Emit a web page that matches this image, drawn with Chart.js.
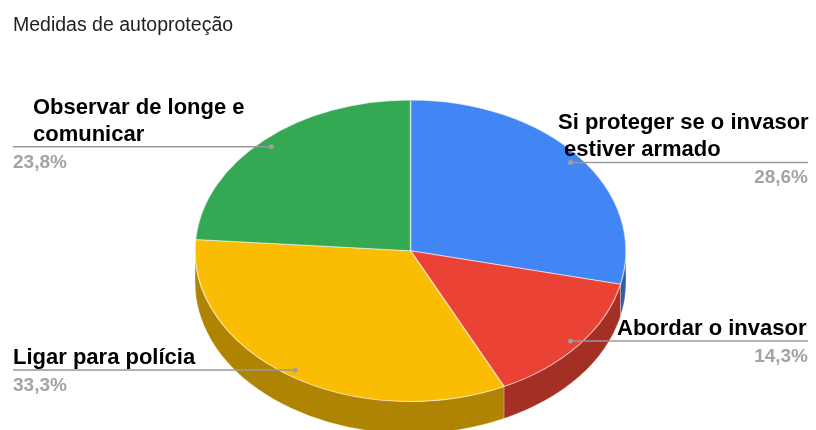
<!DOCTYPE html>
<html lang="pt">
<head>
<meta charset="utf-8">
<title>Medidas de autoproteção</title>
<script src="https://cdn.jsdelivr.net/npm/chart.js@4.4.1/dist/chart.umd.min.js"></script>
<style>
  html, body { margin: 0; padding: 0; background: #fff; }
  #wrap { width: 816px; height: 430px; }
</style>
</head>
<body>
<div id="wrap"><canvas id="chart"></canvas></div>
<script>
const chartTitle = "Medidas de autoproteção";
const categories = [
  ["Si proteger se o invasor", " estiver armado"],
  ["Abordar o invasor"],
  ["Ligar para polícia"],
  ["Observar de longe e", "comunicar"],
];
const responses = [6, 3, 7, 5];
const sliceColors = ["#4285F4", "#EA4335", "#FBBC04", "#34A853"];

// left edge of each slice's name text
const labelTextX = [558, 617, 13, 33];

const TILT = 0.7;   // how flat the top of the pie looks
const DEPTH = 32;   // height of the side wall
const FONT = "'Liberation Sans', Arial, sans-serif";

const shade = (hex, f) => {
  const n = parseInt(hex.slice(1), 16);
  const r = Math.round(((n >> 16) & 255) * f);
  const g = Math.round(((n >> 8) & 255) * f);
  const b = Math.round((n & 255) * f);
  return `rgb(${r},${g},${b})`;
};

const pctText = (v, total) =>
  (v / total * 100).toFixed(1).replace(".", ",") + "%";

// stretches the pie sideways, adds the side wall and the leader-line labels
const pie3d = {
  id: "pie3d",
  beforeDatasetsDraw(chart) {
    const ctx = chart.ctx;
    const arcs = chart.getDatasetMeta(0).data;
    const { x, y, outerRadius } = arcs[0];
    ctx.save();
    ctx.translate(x, y);
    ctx.scale(1 / TILT, 1);
    ctx.translate(-x, -y);

    // only the front half (0..PI) of the wall can be seen
    arcs.forEach((arc, i) => {
      const s = Math.max(arc.startAngle, 0);
      const e = Math.min(arc.endAngle, Math.PI);
      if (e <= s) return;
      ctx.beginPath();
      ctx.arc(x, y, outerRadius, s, e);
      ctx.arc(x, y + DEPTH, outerRadius, e, s, true);
      ctx.closePath();
      ctx.fillStyle = shade(sliceColors[i], 0.7);
      ctx.fill();
      ctx.strokeStyle = "rgba(255,255,255,0.3)";
      ctx.lineWidth = 0.7;
      ctx.stroke();
    });
  },
  afterDatasetsDraw(chart) {
    chart.ctx.restore();
  },
  afterDraw(chart) {
    const ctx = chart.ctx;
    const arcs = chart.getDatasetMeta(0).data;
    const area = chart.chartArea;
    const total = responses.reduce((a, b) => a + b, 0);
    ctx.save();
    arcs.forEach((arc, i) => {
      const mid = (arc.startAngle + arc.endAngle) / 2;
      const px = arc.x + Math.cos(mid) * arc.outerRadius * 0.95 / TILT;
      const py = arc.y + Math.sin(mid) * arc.outerRadius * 0.95 + 1;
      const right = Math.cos(mid) >= 0;
      const lineEnd = right ? area.right : area.left;

      ctx.strokeStyle = "#999999";
      ctx.lineWidth = 1.5;
      ctx.beginPath();
      ctx.moveTo(px, py);
      ctx.lineTo(lineEnd, py);
      ctx.stroke();
      ctx.fillStyle = "#9e9e9e";
      ctx.beginPath();
      ctx.arc(px, py, 2.5, 0, Math.PI * 2);
      ctx.fill();

      const lines = categories[i];
      ctx.font = `bold 22px ${FONT}`;
      ctx.fillStyle = "#000";
      ctx.textAlign = "left";
      ctx.textBaseline = "alphabetic";
      lines.forEach((t, k) => {
        ctx.fillText(t, labelTextX[i], py - 6 - (lines.length - 1 - k) * 27);
      });

      ctx.font = `bold 19px ${FONT}`;
      ctx.fillStyle = "#a3a3a3";
      ctx.textAlign = right ? "right" : "left";
      ctx.fillText(pctText(responses[i], total), lineEnd, py + 21);
    });
    ctx.restore();
  },
};

new Chart(document.getElementById("chart"), {
  type: "pie",
  data: {
    labels: categories,
    datasets: [{
      data: responses,
      backgroundColor: sliceColors,
      borderColor: "rgba(255,255,255,0.55)",
      borderWidth: 1,
    }],
  },
  options: {
    responsive: true,
    maintainAspectRatio: false,
    animation: false,
    events: [],
    layout: { padding: { left: 13, right: 8, top: 0, bottom: 28 } },
    plugins: {
      legend: { display: false },
      tooltip: { enabled: false },
      title: {
        display: true,
        text: chartTitle,
        align: "start",
        color: "#222",
        font: { family: FONT, size: 19.5, weight: "normal" },
        padding: { top: 14, bottom: 62 },
      },
    },
  },
  plugins: [pie3d],
});
</script>
</body>
</html>
